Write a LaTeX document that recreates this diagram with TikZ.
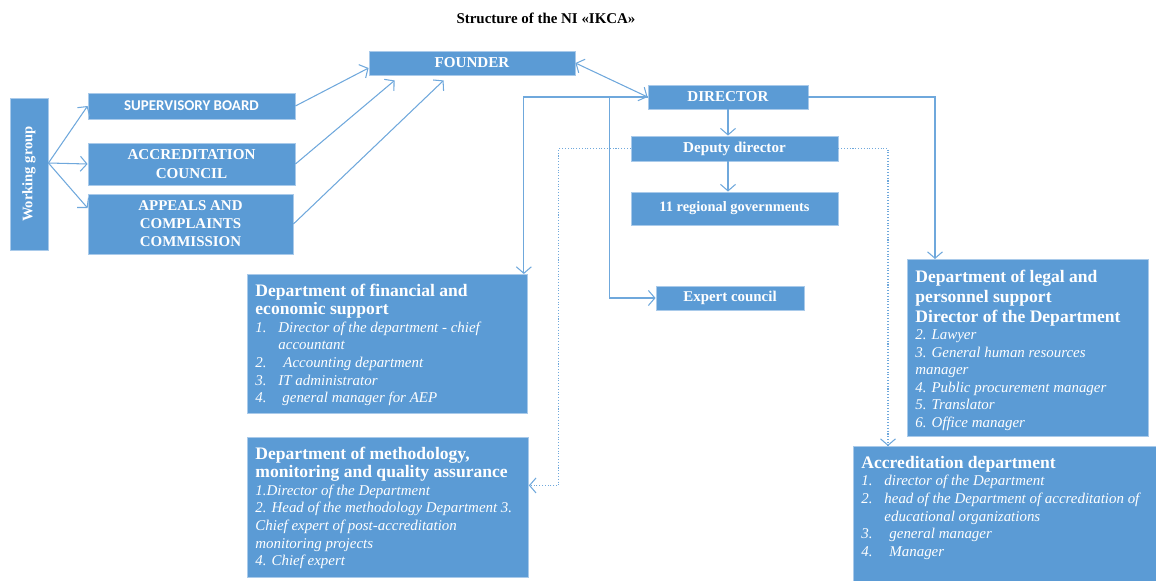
\documentclass[tikz,border=0pt]{standalone}
\usepackage{fontspec}
\setmainfont{Liberation Serif}
\newfontfamily\boardfont{Carlito}
\usetikzlibrary{arrows.meta,calc}

\definecolor{unitblue}{HTML}{5B9BD5}
\definecolor{unitedge}{HTML}{A9CAEA}
\definecolor{linkblue}{HTML}{6FA8DC}

\newcommand{\headfont}{\fontsize{10}{10.5}\selectfont\bfseries}
\newcommand{\listfont}{\fontsize{8.5}{10}\selectfont\mdseries\itshape}
\newcommand{\itm}[2]{\par\noindent\hangindent=0.46cm\hangafter=1\makebox[0.46cm][l]{#1}#2}

\tikzset{
  unit/.style={draw=unitedge, fill=unitblue, text=white, line width=0.5pt,
    inner sep=0pt, align=center, font=\fontsize{8.6}{10.4}\selectfont\bfseries},
  dept/.style={draw=unitedge, fill=unitblue, text=white, line width=0.5pt,
    inner xsep=0.16cm, inner ysep=0.18cm, anchor=north west},
  link/.style={draw=linkblue, line width=0.6pt, -{Straight Barb[length=0.13cm,width=0.3cm]}},
  dotlink/.style={link, densely dotted},
}

\begin{document}
\begin{tikzpicture}[x=0.02cm, y=-0.02cm]
 \useasboundingbox (0,0) rectangle (1156,581);

 \node[font=\fontsize{8.5}{10}\selectfont\bfseries] (title) at (546,18) {Structure of the NI «IKCA»};

 \node[unit, minimum width=0.76cm, minimum height=3.04cm, font=\fontsize{8.3}{10}\selectfont\bfseries] (wg) at (29,174) {\rotatebox{90}{Working group}};
 \node[unit, minimum width=4.14cm, minimum height=0.52cm, font=\fontsize{8.5}{10}\selectfont\boardfont\bfseries] (sb) at (191.5,106) {SUPERVISORY BOARD};
 \node[unit, minimum width=4.14cm, minimum height=0.84cm] (ac) at (191.5,164) {ACCREDITATION\\COUNCIL};
 \node[unit, minimum width=4.1cm, minimum height=1.2cm, font=\fontsize{8.5}{10.2}\selectfont\bfseries] (apc) at (190.5,224) {APPEALS AND\\COMPLAINTS\\COMMISSION};

 \node[unit, minimum width=4.12cm, minimum height=0.48cm] (founder) at (472,63) {FOUNDER};
 \node[unit, minimum width=3.2cm, minimum height=0.48cm] (director) at (728,97) {DIRECTOR};
 \node[unit, minimum width=4.14cm, minimum height=0.5cm] (deputy) at (734.5,148.5) {Deputy director};
 \node[unit, minimum width=4.14cm, minimum height=0.66cm, font=\fontsize{8.2}{10}\selectfont\bfseries] (regional) at (734.5,208.5) {11 regional governments};
 \node[unit, minimum width=2.96cm, minimum height=0.48cm, font=\fontsize{8.5}{10}\selectfont\bfseries] (expert) at (730,298) {Expert council};

 \node[dept] (fin) at (247,274) {\parbox[t][2.42cm][t]{5.28cm}{\raggedright
   {\headfont\strut Department of financial and\\economic support\par}
   {\listfont
    \itm{1.}{Director of the department - chief\newline accountant}
    \itm{2.}{\hspace{0.1cm}Accounting department}
    \itm{3.}{IT administrator}
    \itm{4.}{\hspace{0.08cm}general manager for AEP}\par}}};

 \node[dept] (meth) at (247,437) {\parbox[t][2.44cm][t]{5.3cm}{\raggedright
   {\headfont\strut Department of methodology,\\monitoring and quality assurance\par}
   {\listfont\noindent 1.Director of the Department\\
    2. Head of the methodology Department 3.\\
    Chief expert of post-accreditation\\
    monitoring projects\\
    4. Chief expert\par}}};

 \node[dept] (legal) at (907,259) {\parbox[t][3.18cm][t]{4.5cm}{\raggedright
   {\fontsize{10}{11.3}\selectfont\bfseries\strut Department of legal and\\personnel support\\Director of the Department\par}
   {\listfont\noindent 2. Lawyer\\
    3. General human resources\\
    manager\\
    4. Public procurement manager\\
    5. Translator\\
    6. Office manager\par}}};

 \node[dept] (acc) at (853,446) {\parbox[t][2.34cm][t]{5.74cm}{\raggedright
   {\headfont\strut Accreditation department\par}
   {\listfont
    \itm{1.}{director of the Department}
    \itm{2.}{head of the Department of accreditation of\newline educational organizations}
    \itm{3.}{\hspace{0.1cm}general manager}
    \itm{4.}{\hspace{0.1cm}Manager}\par}}};

 \draw[link] ([yshift=0.22cm]wg.east) -- (sb.west);
 \draw[link] ([yshift=0.22cm]wg.east) -- (ac.west);
 \draw[link] ([yshift=0.22cm]wg.east) -- ([yshift=0.32cm]apc.west);

 \draw[link] (sb.east) -- ([yshift=-0.1cm]founder.west);
 \draw[link] (ac.east) -- ($(founder.south west)+(26,5)$);
 \draw[link] (apc.east) -- ($(founder.south west)+(75,5)$);

 \draw[link, {Straight Barb[length=0.13cm,width=0.3cm]}-{Straight Barb[length=0.13cm,width=0.3cm]}] (founder.east) -- (director.west);

 \draw[link] (director.west) -| ([xshift=-0.08cm]fin.north east);
 \draw[link] ($(director.west)+(-38,0)$) |- (expert.west);
 \draw[link] (director.east) -| ([xshift=0.56cm]legal.north west);
 \draw[link] (director.south) -- (director.south |- deputy.north);
 \draw[link] (deputy.south -| director.south) -- (regional.north -| director.south);

 \draw[dotlink] (deputy.west) -| ([xshift=0.6cm,yshift=0.44cm]meth.east) -- ([yshift=0.44cm]meth.east);
 \draw[dotlink] (deputy.east) -| ([xshift=0.7cm]acc.north west);
\end{tikzpicture}
\end{document}
